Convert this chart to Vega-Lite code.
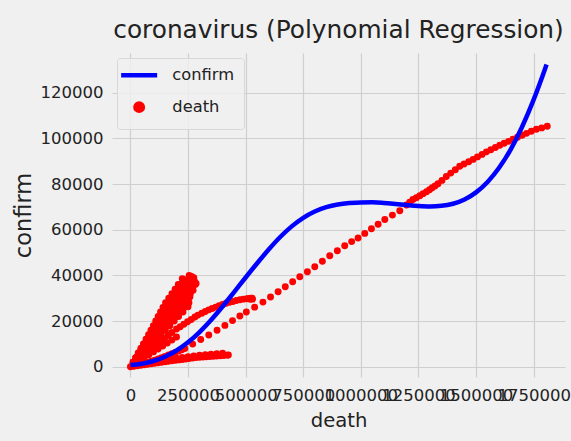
{
  "$schema": "https://vega.github.io/schema/vega-lite/v6.json",
  "width": 453,
  "height": 324,
  "autosize": {"type": "none"},
  "padding": {"left": 112, "top": 53, "right": 6, "bottom": 64},
  "background": "#f0f0f0",
  "config": {
    "font": "DejaVu Sans",
    "view": {"stroke": null, "fill": "#f0f0f0"},
    "axis": {"gridColor": "#cfcfcf", "gridWidth": 1.2, "domain": false, "ticks": false, "labelColor": "#222", "titleColor": "#222", "labelFont": "DejaVu Sans", "titleFont": "DejaVu Sans", "titleFontWeight": "normal"}
  },
  "title": {"text": "coronavirus (Polynomial Regression)", "fontSize": 24.8, "fontWeight": "normal", "color": "#222", "font": "DejaVu Sans", "anchor": "middle", "offset": 10},
  "datasets": {
    "fit": [
      {"series":"confirm","death":0,"confirm":750},{"series":"confirm","death":50000,"confirm":1312},{"series":"confirm","death":100000,"confirm":2500},{"series":"confirm","death":150000,"confirm":4400},{"series":"confirm","death":200000,"confirm":7100},{"series":"confirm","death":250000,"confirm":10675},{"series":"confirm","death":300000,"confirm":15200},{"series":"confirm","death":350000,"confirm":20500},{"series":"confirm","death":400000,"confirm":26400},{"series":"confirm","death":450000,"confirm":32700},{"series":"confirm","death":500000,"confirm":39075},{"series":"confirm","death":550000,"confirm":45312},{"series":"confirm","death":600000,"confirm":51325},{"series":"confirm","death":650000,"confirm":56812},{"series":"confirm","death":700000,"confirm":61475},{"series":"confirm","death":750000,"confirm":65225},{"series":"confirm","death":800000,"confirm":67975},{"series":"confirm","death":850000,"confirm":69862},{"series":"confirm","death":900000,"confirm":71025},{"series":"confirm","death":950000,"confirm":71662},{"series":"confirm","death":1000000,"confirm":71975},{"series":"confirm","death":1050000,"confirm":71987},{"series":"confirm","death":1100000,"confirm":71725},{"series":"confirm","death":1150000,"confirm":71300},{"series":"confirm","death":1200000,"confirm":70825},{"series":"confirm","death":1250000,"confirm":70425},{"series":"confirm","death":1300000,"confirm":70225},{"series":"confirm","death":1350000,"confirm":70462},{"series":"confirm","death":1400000,"confirm":71375},{"series":"confirm","death":1450000,"confirm":73250},{"series":"confirm","death":1500000,"confirm":76375},{"series":"confirm","death":1550000,"confirm":80937},{"series":"confirm","death":1600000,"confirm":87125},{"series":"confirm","death":1650000,"confirm":95125},{"series":"confirm","death":1700000,"confirm":105125},{"series":"confirm","death":1750000,"confirm":117000},{"series":"confirm","death":1800000,"confirm":130625},{"series":"confirm","death":1806000,"confirm":132365}
    ],
    "obs": [
      {"series":"death","death":0,"confirm":0},{"series":"death","death":15000,"confirm":400},{"series":"death","death":30000,"confirm":800},{"series":"death","death":45000,"confirm":1200},{"series":"death","death":60000,"confirm":1600},{"series":"death","death":75000,"confirm":2000},{"series":"death","death":90000,"confirm":2400},{"series":"death","death":105000,"confirm":2900},{"series":"death","death":120000,"confirm":3400},{"series":"death","death":135000,"confirm":3900},{"series":"death","death":150000,"confirm":4500},{"series":"death","death":165000,"confirm":5100},{"series":"death","death":180000,"confirm":5700},{"series":"death","death":195000,"confirm":6300},{"series":"death","death":210000,"confirm":6900},{"series":"death","death":223000,"confirm":7400},
      {"series":"death","death":236000,"confirm":8000},{"series":"death","death":270000,"confirm":9900},{"series":"death","death":305000,"confirm":11900},{"series":"death","death":340000,"confirm":13900},{"series":"death","death":376000,"confirm":16000},{"series":"death","death":410000,"confirm":18100},{"series":"death","death":443000,"confirm":20200},{"series":"death","death":475000,"confirm":22200},{"series":"death","death":503000,"confirm":24000},{"series":"death","death":539000,"confirm":26100},{"series":"death","death":575000,"confirm":28300},{"series":"death","death":608000,"confirm":30500},{"series":"death","death":641000,"confirm":32800},{"series":"death","death":672000,"confirm":35000},{"series":"death","death":704000,"confirm":37200},{"series":"death","death":735000,"confirm":39400},{"series":"death","death":768000,"confirm":41600},{"series":"death","death":800000,"confirm":43800},{"series":"death","death":833000,"confirm":46200},{"series":"death","death":865000,"confirm":48600},{"series":"death","death":898000,"confirm":50800},{"series":"death","death":930000,"confirm":53000},{"series":"death","death":960000,"confirm":54800},{"series":"death","death":988000,"confirm":56400},{"series":"death","death":1017000,"confirm":58400},{"series":"death","death":1046000,"confirm":60400},{"series":"death","death":1075000,"confirm":62400},{"series":"death","death":1104000,"confirm":64500},{"series":"death","death":1137000,"confirm":66400},{"series":"death","death":1169000,"confirm":68300},{"series":"death","death":1198000,"confirm":70800},{"series":"death","death":1212000,"confirm":72000},{"series":"death","death":1226000,"confirm":73200},{"series":"death","death":1241000,"confirm":74000},{"series":"death","death":1256000,"confirm":74900},{"series":"death","death":1270000,"confirm":75800},{"series":"death","death":1285000,"confirm":76600},{"series":"death","death":1298000,"confirm":77500},{"series":"death","death":1310000,"confirm":78400},{"series":"death","death":1322000,"confirm":79200},{"series":"death","death":1335000,"confirm":80100},
      {"series":"death","death":1352000,"confirm":81600},{"series":"death","death":1371000,"confirm":83300},{"series":"death","death":1390000,"confirm":84800},{"series":"death","death":1410000,"confirm":86300},{"series":"death","death":1429000,"confirm":87800},{"series":"death","death":1448000,"confirm":88800},{"series":"death","death":1468000,"confirm":89800},{"series":"death","death":1487000,"confirm":90800},{"series":"death","death":1506000,"confirm":91900},{"series":"death","death":1526000,"confirm":93000},{"series":"death","death":1545000,"confirm":94100},{"series":"death","death":1564000,"confirm":95000},{"series":"death","death":1584000,"confirm":96000},{"series":"death","death":1603000,"confirm":97000},{"series":"death","death":1622000,"confirm":97900},{"series":"death","death":1641000,"confirm":98700},{"series":"death","death":1660000,"confirm":99600},{"series":"death","death":1680000,"confirm":100500},{"series":"death","death":1700000,"confirm":101400},{"series":"death","death":1719000,"confirm":102200},{"series":"death","death":1740000,"confirm":103100},{"series":"death","death":1762000,"confirm":104000},{"series":"death","death":1785000,"confirm":104600},{"series":"death","death":1809000,"confirm":105300},
      {"series":"death","death":15000,"confirm":220},{"series":"death","death":30000,"confirm":440},{"series":"death","death":45000,"confirm":660},{"series":"death","death":60000,"confirm":890},{"series":"death","death":75000,"confirm":1110},{"series":"death","death":90000,"confirm":1330},{"series":"death","death":105000,"confirm":1550},{"series":"death","death":120000,"confirm":1770},{"series":"death","death":135000,"confirm":1990},{"series":"death","death":150000,"confirm":2210},{"series":"death","death":165000,"confirm":2410},{"series":"death","death":180000,"confirm":2610},{"series":"death","death":195000,"confirm":2810},{"series":"death","death":210000,"confirm":3000},{"series":"death","death":225000,"confirm":3200},{"series":"death","death":240000,"confirm":3400},{"series":"death","death":255000,"confirm":3600},{"series":"death","death":270000,"confirm":3800},{"series":"death","death":285000,"confirm":4000},{"series":"death","death":300000,"confirm":4150},{"series":"death","death":315000,"confirm":4270},{"series":"death","death":330000,"confirm":4380},{"series":"death","death":345000,"confirm":4500},{"series":"death","death":360000,"confirm":4610},{"series":"death","death":375000,"confirm":4730},{"series":"death","death":390000,"confirm":4840},{"series":"death","death":405000,"confirm":4950},{"series":"death","death":420000,"confirm":5070},{"series":"death","death":425000,"confirm":5150},
      {"series":"death","death":125000,"confirm":2500},{"series":"death","death":150000,"confirm":3000},{"series":"death","death":175000,"confirm":3350},{"series":"death","death":200000,"confirm":3700},{"series":"death","death":225000,"confirm":4050},{"series":"death","death":250000,"confirm":4400},{"series":"death","death":275000,"confirm":4750},{"series":"death","death":300000,"confirm":5050},{"series":"death","death":325000,"confirm":5250},{"series":"death","death":350000,"confirm":5500},{"series":"death","death":375000,"confirm":5700},{"series":"death","death":400000,"confirm":5900},
      {"series":"death","death":16000,"confirm":1400},{"series":"death","death":32000,"confirm":2800},{"series":"death","death":48000,"confirm":4200},{"series":"death","death":64000,"confirm":5600},{"series":"death","death":80000,"confirm":7000},{"series":"death","death":100000,"confirm":8800},{"series":"death","death":116000,"confirm":10000},{"series":"death","death":132000,"confirm":11300},{"series":"death","death":148000,"confirm":12500},{"series":"death","death":164000,"confirm":13700},{"series":"death","death":180000,"confirm":15000},{"series":"death","death":200000,"confirm":16500},{"series":"death","death":216000,"confirm":17500},{"series":"death","death":232000,"confirm":18600},{"series":"death","death":248000,"confirm":19700},{"series":"death","death":264000,"confirm":20700},{"series":"death","death":280000,"confirm":21800},{"series":"death","death":293000,"confirm":22600},{"series":"death","death":310000,"confirm":23400},{"series":"death","death":325000,"confirm":24200},{"series":"death","death":340000,"confirm":24900},{"series":"death","death":355000,"confirm":25500},{"series":"death","death":370000,"confirm":26100},{"series":"death","death":385000,"confirm":26700},{"series":"death","death":400000,"confirm":27300},{"series":"death","death":415000,"confirm":27800},{"series":"death","death":430000,"confirm":28200},{"series":"death","death":445000,"confirm":28600},{"series":"death","death":460000,"confirm":29000},{"series":"death","death":475000,"confirm":29300},{"series":"death","death":490000,"confirm":29600},{"series":"death","death":505000,"confirm":29800},{"series":"death","death":515000,"confirm":29900},{"series":"death","death":520000,"confirm":29500},{"series":"death","death":522000,"confirm":30000},{"series":"death","death":528000,"confirm":30000},{"series":"death","death":530000,"confirm":29600},
      {"series":"death","death":11300,"confirm":2000},{"series":"death","death":22500,"confirm":4000},{"series":"death","death":33800,"confirm":6000},{"series":"death","death":45000,"confirm":8000},{"series":"death","death":56300,"confirm":10000},{"series":"death","death":67600,"confirm":12000},{"series":"death","death":78600,"confirm":14000},{"series":"death","death":89000,"confirm":16000},{"series":"death","death":99500,"confirm":18000},{"series":"death","death":109900,"confirm":20000},{"series":"death","death":120300,"confirm":22000},{"series":"death","death":130700,"confirm":24000},{"series":"death","death":141200,"confirm":26000},{"series":"death","death":152500,"confirm":28000},{"series":"death","death":166300,"confirm":30000},{"series":"death","death":180100,"confirm":32000},{"series":"death","death":193900,"confirm":34000},{"series":"death","death":207700,"confirm":36000},{"series":"death","death":225000,"confirm":38500},
      {"series":"death","death":11850,"confirm":2000},{"series":"death","death":23650,"confirm":4000},{"series":"death","death":35450,"confirm":6000},{"series":"death","death":47250,"confirm":8000},{"series":"death","death":59100,"confirm":10000},{"series":"death","death":70950,"confirm":12000},{"series":"death","death":82650,"confirm":14000},{"series":"death","death":94000,"confirm":16000},{"series":"death","death":105450,"confirm":18000},{"series":"death","death":116850,"confirm":20000},{"series":"death","death":128450,"confirm":22000},{"series":"death","death":140200,"confirm":24000},{"series":"death","death":152050,"confirm":26000},{"series":"death","death":164300,"confirm":28000},{"series":"death","death":177750,"confirm":30000},{"series":"death","death":191250,"confirm":32000},{"series":"death","death":204700,"confirm":34000},{"series":"death","death":218200,"confirm":36000},{"series":"death","death":233000,"confirm":38000},
      {"series":"death","death":12400,"confirm":2000},{"series":"death","death":24800,"confirm":4000},{"series":"death","death":37100,"confirm":6000},{"series":"death","death":49500,"confirm":8000},{"series":"death","death":61900,"confirm":10000},{"series":"death","death":74300,"confirm":12000},{"series":"death","death":86700,"confirm":14000},{"series":"death","death":99000,"confirm":16000},{"series":"death","death":111400,"confirm":18000},{"series":"death","death":123800,"confirm":20000},{"series":"death","death":136600,"confirm":22000},{"series":"death","death":149700,"confirm":24000},{"series":"death","death":162900,"confirm":26000},{"series":"death","death":176100,"confirm":28000},{"series":"death","death":189200,"confirm":30000},{"series":"death","death":202400,"confirm":32000},{"series":"death","death":215500,"confirm":34000},{"series":"death","death":228700,"confirm":36000},{"series":"death","death":241800,"confirm":38000},{"series":"death","death":255000,"confirm":40000},
      {"series":"death","death":13200,"confirm":2000},{"series":"death","death":26400,"confirm":4000},{"series":"death","death":39550,"confirm":6000},{"series":"death","death":52750,"confirm":8000},{"series":"death","death":65950,"confirm":10000},{"series":"death","death":79150,"confirm":12000},{"series":"death","death":92350,"confirm":14000},{"series":"death","death":105500,"confirm":16000},{"series":"death","death":118700,"confirm":18000},{"series":"death","death":131900,"confirm":20000},{"series":"death","death":145400,"confirm":22000},{"series":"death","death":159050,"confirm":24000},{"series":"death","death":172750,"confirm":26000},{"series":"death","death":186450,"confirm":28000},{"series":"death","death":200150,"confirm":30000},{"series":"death","death":213850,"confirm":32000},{"series":"death","death":227500,"confirm":34000},{"series":"death","death":241200,"confirm":36000},{"series":"death","death":254850,"confirm":38000},{"series":"death","death":265000,"confirm":39500},
      {"series":"death","death":14000,"confirm":2000},{"series":"death","death":28000,"confirm":4000},{"series":"death","death":42000,"confirm":6000},{"series":"death","death":56000,"confirm":8000},{"series":"death","death":70000,"confirm":10000},{"series":"death","death":84000,"confirm":12000},{"series":"death","death":98000,"confirm":14000},{"series":"death","death":112000,"confirm":16000},{"series":"death","death":126000,"confirm":18000},{"series":"death","death":140000,"confirm":20000},{"series":"death","death":154200,"confirm":22000},{"series":"death","death":168400,"confirm":24000},{"series":"death","death":182600,"confirm":26000},{"series":"death","death":196800,"confirm":28000},{"series":"death","death":211100,"confirm":30000},{"series":"death","death":225300,"confirm":32000},{"series":"death","death":239500,"confirm":34000},{"series":"death","death":253700,"confirm":36000},{"series":"death","death":267900,"confirm":38000},{"series":"death","death":275000,"confirm":39000},
      {"series":"death","death":15100,"confirm":2000},{"series":"death","death":30200,"confirm":4000},{"series":"death","death":45300,"confirm":6000},{"series":"death","death":60450,"confirm":8000},{"series":"death","death":75550,"confirm":10000},{"series":"death","death":90650,"confirm":12000},{"series":"death","death":105750,"confirm":14000},{"series":"death","death":120850,"confirm":16000},{"series":"death","death":135950,"confirm":18000},{"series":"death","death":150650,"confirm":20000},{"series":"death","death":165250,"confirm":22000},{"series":"death","death":179850,"confirm":24000},{"series":"death","death":194450,"confirm":26000},{"series":"death","death":209050,"confirm":28000},{"series":"death","death":223700,"confirm":30000},{"series":"death","death":238300,"confirm":32000},{"series":"death","death":252900,"confirm":34000},{"series":"death","death":267500,"confirm":36000},{"series":"death","death":278000,"confirm":37500},
      {"series":"death","death":16200,"confirm":2000},{"series":"death","death":32400,"confirm":4000},{"series":"death","death":48600,"confirm":6000},{"series":"death","death":64900,"confirm":8000},{"series":"death","death":81100,"confirm":10000},{"series":"death","death":97300,"confirm":12000},{"series":"death","death":113500,"confirm":14000},{"series":"death","death":129700,"confirm":16000},{"series":"death","death":145900,"confirm":18000},{"series":"death","death":161300,"confirm":20000},{"series":"death","death":176300,"confirm":22000},{"series":"death","death":191300,"confirm":24000},{"series":"death","death":206300,"confirm":26000},{"series":"death","death":221300,"confirm":28000},{"series":"death","death":236300,"confirm":30000},{"series":"death","death":251300,"confirm":32000},{"series":"death","death":266300,"confirm":34000},{"series":"death","death":281300,"confirm":36000},{"series":"death","death":285000,"confirm":36500},
      {"series":"death","death":16550,"confirm":2000},{"series":"death","death":33100,"confirm":4000},{"series":"death","death":49700,"confirm":6000},{"series":"death","death":66300,"confirm":8000},{"series":"death","death":82850,"confirm":10000},{"series":"death","death":99400,"confirm":12000},{"series":"death","death":115950,"confirm":14000},{"series":"death","death":132500,"confirm":16000},{"series":"death","death":149100,"confirm":18000},{"series":"death","death":165250,"confirm":20000},{"series":"death","death":181200,"confirm":22000},{"series":"death","death":197150,"confirm":24000},{"series":"death","death":213100,"confirm":26000},{"series":"death","death":229100,"confirm":28000},{"series":"death","death":246000,"confirm":30000},{"series":"death","death":260000,"confirm":32000},{"series":"death","death":272000,"confirm":33500},
      {"series":"death","death":16900,"confirm":2000},{"series":"death","death":33800,"confirm":4000},{"series":"death","death":50800,"confirm":6000},{"series":"death","death":67700,"confirm":8000},{"series":"death","death":84600,"confirm":10000},{"series":"death","death":101500,"confirm":12000},{"series":"death","death":118400,"confirm":14000},{"series":"death","death":135300,"confirm":16000},{"series":"death","death":152300,"confirm":18000},{"series":"death","death":169200,"confirm":20000},{"series":"death","death":186100,"confirm":22000},{"series":"death","death":203000,"confirm":24000},{"series":"death","death":219900,"confirm":26000},{"series":"death","death":236900,"confirm":28000},{"series":"death","death":258000,"confirm":30500},
      {"series":"death","death":17950,"confirm":2000},{"series":"death","death":35900,"confirm":4000},{"series":"death","death":53900,"confirm":6000},{"series":"death","death":71850,"confirm":8000},{"series":"death","death":89800,"confirm":10000},{"series":"death","death":107750,"confirm":12000},{"series":"death","death":125700,"confirm":14000},{"series":"death","death":143650,"confirm":16000},{"series":"death","death":161650,"confirm":18000},{"series":"death","death":179600,"confirm":20000},{"series":"death","death":197550,"confirm":22000},{"series":"death","death":215500,"confirm":24000},{"series":"death","death":235000,"confirm":26000},{"series":"death","death":254000,"confirm":28000},
      {"series":"death","death":19000,"confirm":2000},{"series":"death","death":38000,"confirm":4000},{"series":"death","death":57000,"confirm":6000},{"series":"death","death":76000,"confirm":8000},{"series":"death","death":95000,"confirm":10000},{"series":"death","death":114000,"confirm":12000},{"series":"death","death":133000,"confirm":14000},{"series":"death","death":152000,"confirm":16000},{"series":"death","death":171000,"confirm":18000},{"series":"death","death":190000,"confirm":20000},{"series":"death","death":209000,"confirm":22000},{"series":"death","death":228000,"confirm":24000},{"series":"death","death":250000,"confirm":26300},
      {"series":"death","death":20000,"confirm":1300},{"series":"death","death":40000,"confirm":2600},{"series":"death","death":60000,"confirm":3900},{"series":"death","death":80000,"confirm":5200},{"series":"death","death":100000,"confirm":6500},{"series":"death","death":120000,"confirm":7800},{"series":"death","death":140000,"confirm":9100},{"series":"death","death":160000,"confirm":10400},{"series":"death","death":180000,"confirm":11700},{"series":"death","death":200000,"confirm":13000}
    ]
  },
  "encoding": {
    "x": {"field": "death", "type": "quantitative", "title": "death",
      "scale": {"domain": [-80000, 1886000], "nice": false, "zero": false},
      "axis": {"values": [0, 250000, 500000, 750000, 1000000, 1250000, 1500000, 1750000], "format": "d", "labelFontSize": 16.5, "labelPadding": 10, "labelOverlap": false, "labelFlush": false, "labelBound": false, "titleFontSize": 19.6, "titlePadding": 8}},
    "y": {"field": "confirm", "type": "quantitative", "title": "confirm",
      "scale": {"domain": [-4500, 137400], "nice": false, "zero": false},
      "axis": {"values": [0, 20000, 40000, 60000, 80000, 100000, 120000], "format": "d", "labelFontSize": 16.5, "labelPadding": 9, "labelOverlap": false, "labelFlush": false, "titleFontSize": 22.5, "titlePadding": 5}},
    "color": {"field": "series", "type": "nominal",
      "scale": {"domain": ["confirm", "death"], "range": ["#0000ff", "#ff0000"]},
      "legend": {"title": null, "orient": "top-left", "offset": 5, "padding": 9,
        "fillColor": "rgba(240,240,240,0.8)", "strokeColor": "#d8d8d8", "cornerRadius": 3,
        "labelFontSize": 16.3, "labelFont": "DejaVu Sans", "labelColor": "#222",
        "symbolSize": 100, "symbolOffset": 5, "labelOffset": 25, "rowPadding": 9,
        "encode": {"symbols": {"update": {
          "shape": {"signal": "datum.value === 'confirm' ? 'stroke' : 'circle'"},
          "size": {"signal": "datum.value === 'confirm' ? 1296 : 55"},
          "fill": {"signal": "datum.value === 'confirm' ? 'transparent' : '#ff0000'"},
          "stroke": {"signal": "datum.value === 'confirm' ? '#0000ff' : 'transparent'"},
          "strokeWidth": {"value": 4.5},
          "opacity": {"value": 1}
        }}}}}
  },
  "layer": [
    {"data": {"name": "obs"}, "mark": {"type": "point", "filled": true, "size": 48, "opacity": 1, "shape": "circle"}},
    {"data": {"name": "fit"}, "mark": {"type": "line", "strokeWidth": 4.5, "interpolate": "monotone"}}
  ]
}
